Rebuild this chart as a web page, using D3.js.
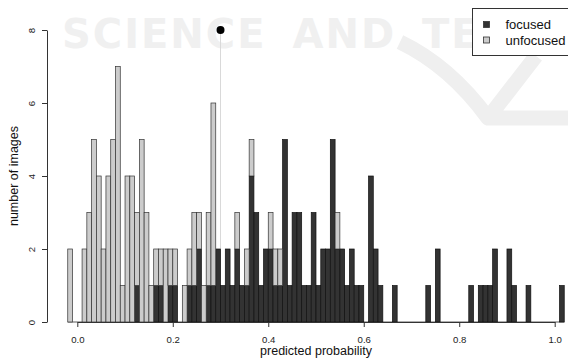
<!DOCTYPE html>
<html>
<head>
<meta charset="utf-8">
<script src="https://cdn.jsdelivr.net/npm/d3@7"></script>
<style>
  body { margin: 0; background: #fff; }
  svg { display: block; font-family: "Liberation Sans", Arial, sans-serif; }
</style>
</head>
<body>
<div id="chart"></div>
<script>
// histogram bins of width 0.01, left edges from -0.02 up to 1.01
var binStart = -0.02, binWidth = 0.01;

// counts per bin (focused images)
var focused = [
  0,0,0,0,0,0,0,0,0,0,
  0,0,0,0,1,0,0,0,1,1,
  0,1,1,0,0,1,1,2,0,1,
  1,2,1,2,1,2,1,1,4,3,
  1,2,2,1,1,5,1,3,3,1,
  1,3,1,2,2,5,2,2,1,2,
  1,1,0,4,2,1,0,0,1,0,
  0,0,0,0,0,1,0,2,0,0,
  0,0,0,0,1,0,1,1,1,2,
  0,0,2,1,0,0,1,0,0,0,
  0,0,0,1
];
// counts per bin (unfocused images)
var unfocused = [
  2,0,0,2,3,5,4,2,4,5,
  7,1,4,4,2,5,3,1,1,1,
  2,1,1,0,1,1,2,1,1,2,
  5,0,0,0,0,1,0,1,1,0,
  0,0,1,1,1,0,0,0,0,0,
  0,0,0,0,0,0,1,0,0,0,
  0,0,0,0,0,0,0,0,0,0,
  0,0,0,0,0,0,0,0,0,0,
  0,0,0,0,0,0,0,0,0,0,
  0,0,0,0,0,0,0,0,0,0,
  0,0,0,0
];
var xTicks = [0, 0.2, 0.4, 0.6, 0.8, 1.0];
var yTicks = [0, 2, 4, 6, 8];
var seriesNames = ["focused", "unfocused"];
var threshold = 0.3, thresholdCount = 8;

var bins = focused.map(function(f, i) {
  return { x0: binStart + i * binWidth, x1: binStart + (i + 1) * binWidth, f: f, u: unfocused[i] };
});

var width = 568, height = 361;

var x = d3.scaleLinear().domain([0, 1]).range([77.3, 554.7]);
var y = d3.scaleLinear().domain([0, 8]).range([322, 30]);

var svg = d3.select("#chart").append("svg")
    .attr("width", width)
    .attr("height", height);

// faint publisher watermark, hidden behind the legend on the right
svg.append("clipPath").attr("id", "wm-clip")
  .append("rect").attr("x", 0).attr("y", 0).attr("width", 472).attr("height", 80);
svg.append("path")
    .attr("d", "M400,42 Q450,66 488,118 L568,118 M488,118 L536,56")
    .style("fill", "none")
    .style("stroke", "#efefef")
    .style("stroke-width", 15)
    .style("stroke-linejoin", "round");
svg.append("text")
    .attr("x", 62).attr("y", 48)
    .attr("clip-path", "url(#wm-clip)")
    .style("font-family", "'DejaVu Sans'")
    .style("font-weight", "bold")
    .style("font-size", "40px")
    .style("letter-spacing", "2px")
    .style("word-spacing", "10px")
    .style("fill", "#f0f0f0")
    .text("SCIENCE AND TE");

// threshold line
svg.append("line")
    .attr("x1", x(threshold)).attr("x2", x(threshold))
    .attr("y1", y(thresholdCount)).attr("y2", y(0))
    .style("stroke", "#d9d9d9")
    .style("stroke-width", 1);

// baseline of empty bins
svg.append("line")
    .attr("x1", x(binStart)).attr("x2", x(binStart + bins.length * binWidth))
    .attr("y1", y(0)).attr("y2", y(0))
    .style("stroke", "#333")
    .style("stroke-width", 0.8);

// focused bars (bottom)
svg.selectAll(".bar-f")
    .data(bins.filter(function(d) { return d.f > 0; }))
    .enter().append("rect")
    .attr("class", "bar-f")
    .attr("x", function(d) { return x(d.x0); })
    .attr("width", function(d) { return x(d.x1) - x(d.x0); })
    .attr("y", function(d) { return y(d.f); })
    .attr("height", function(d) { return y(0) - y(d.f); })
    .style("fill", "#333333")
    .style("stroke", "#111")
    .style("stroke-width", 0.7);

// unfocused bars stacked on top
svg.selectAll(".bar-u")
    .data(bins.filter(function(d) { return d.u > 0; }))
    .enter().append("rect")
    .attr("class", "bar-u")
    .attr("x", function(d) { return x(d.x0); })
    .attr("width", function(d) { return x(d.x1) - x(d.x0); })
    .attr("y", function(d) { return y(d.f + d.u); })
    .attr("height", function(d) { return y(d.f) - y(d.f + d.u); })
    .style("fill", "#cccccc")
    .style("stroke", "#333")
    .style("stroke-width", 0.7);

// threshold point
svg.append("circle")
    .attr("cx", x(threshold)).attr("cy", y(thresholdCount))
    .attr("r", 4)
    .style("fill", "#000");

// x axis
var xAxis = svg.append("g")
    .attr("transform", "translate(0," + y(0) + ")")
    .call(d3.axisBottom(x).tickValues(xTicks).tickFormat(d3.format(".1f"))
          .tickSize(5).tickSizeOuter(0).tickPadding(9));
xAxis.select(".domain").style("stroke", "#333");
xAxis.selectAll("line").style("stroke", "#333");
xAxis.selectAll("text").style("font-size", "9.6px").style("fill", "#222")
    .style("font-family", "'Liberation Sans'");

// y axis
var yAxis = svg.append("g")
    .attr("transform", "translate(47,0)")
    .call(d3.axisLeft(y).tickValues(yTicks).tickSize(5).tickSizeOuter(0));
yAxis.select(".domain").style("stroke", "#333");
yAxis.selectAll("line").style("stroke", "#333");
yAxis.selectAll("text")
    .attr("x", 0).attr("dy", 0).attr("y", -12)
    .attr("transform", "rotate(-90)")
    .style("text-anchor", "middle")
    .style("font-size", "9.6px").style("fill", "#222")
    .style("font-family", "'Liberation Sans'");

// axis titles
svg.append("text")
    .attr("x", x(0.5)).attr("y", 355)
    .style("text-anchor", "middle")
    .style("font-size", "12.5px")
    .style("fill", "#111")
    .text("predicted probability");

svg.append("text")
    .attr("transform", "translate(18," + y(4) + ") rotate(-90)")
    .style("text-anchor", "middle")
    .style("font-size", "12.5px")
    .style("fill", "#111")
    .text("number of images");

// legend
var legend = svg.append("g");
legend.append("rect")
    .attr("x", 472.5).attr("y", 8.5)
    .attr("width", 110).attr("height", 47)
    .style("fill", "#fff")
    .style("stroke", "#333");
var legendColors = ["#333333", "#cccccc"];
seriesNames.forEach(function(name, i) {
  legend.append("rect")
      .attr("x", 483.5).attr("y", 21.5 + i * 15.5)
      .attr("width", 6).attr("height", 6)
      .style("fill", legendColors[i])
      .style("stroke", "#333")
      .style("stroke-width", 0.8);
  legend.append("text")
      .attr("x", 505.5).attr("y", 29 + i * 15.5)
      .style("font-size", "13px")
      .style("fill", "#111")
      .text(name);
});
</script>
</body>
</html>
